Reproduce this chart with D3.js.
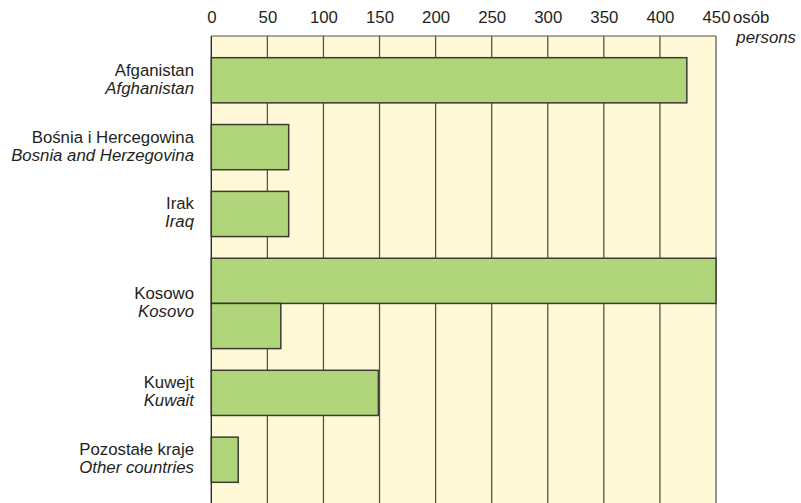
<!DOCTYPE html>
<html><head><meta charset="utf-8">
<script src="https://cdn.jsdelivr.net/npm/d3@7"></script>
<style>
body{margin:0;background:#fff;}
svg text{font-family:"Liberation Sans",Arial,sans-serif;fill:#231f20;}
</style></head>
<body><svg id="c" width="801" height="503"></svg>
<script>
const categoriesPL = ["Afganistan","Bośnia i Hercegowina","Irak","Kosowo","Kuwejt","Pozostałe kraje"];
const categoriesEN = ["Afghanistan","Bosnia and Herzegovina","Iraq","Kosovo","Kuwait","Other countries"];
const values = [[424],[69],[69],[450,62],[149],[24]];
const tickValues = [0,50,100,150,200,250,300,350,400,450];
const unitPL = "osób", unitEN = "persons";

(function(){
const svg = d3.select("#c");
const pL = 211.3, pR = 716, pT = 36, pB = 504;
const fs = 16.8;
const x = d3.scaleLinear().domain([0,450]).range([pL,pR]);

// layout in bar units: a gap before each category, one unit per bar
const gapU = 0.48;
let pos = 0; const rows = [];
values.forEach((vals,i)=>{ pos += gapU; rows.push({i, start:pos, vals}); pos += vals.length; });
pos += gapU;
const y = d3.scaleLinear().domain([0,pos]).range([pT,pB]);

svg.append("rect").attr("x",pL).attr("y",pT).attr("width",pR-pL).attr("height",pB-pT)
  .attr("fill","#fff9d7");

// grid
svg.selectAll("line.g").data(tickValues.filter(t=>t>0&&t<450)).enter().append("line")
  .attr("x1",d=>x(d)).attr("x2",d=>x(d)).attr("y1",pT).attr("y2",pB)
  .attr("stroke","#5a5448").attr("stroke-width",1.3);
svg.append("line").attr("x1",x(450)).attr("x2",x(450)).attr("y1",pT).attr("y2",pB)
  .attr("stroke","#8a8780").attr("stroke-width",1.8);
svg.append("line").attr("x1",x(0)).attr("x2",x(0)).attr("y1",pT).attr("y2",pB)
  .attr("stroke","#231f20").attr("stroke-width",1.3);
svg.append("line").attr("x1",pL).attr("x2",pR).attr("y1",pT).attr("y2",pT)
  .attr("stroke","#5a5448").attr("stroke-width",1.2);

// bars
rows.forEach(r=>{
  r.vals.forEach((v,k)=>{
    svg.append("rect").attr("x",x(0)).attr("y",y(r.start+k))
      .attr("width",x(v)-x(0)).attr("height",y(r.start+k+1)-y(r.start+k))
      .attr("fill","#b0d57a").attr("stroke","#3c3a33").attr("stroke-width",1.5);
  });
  const cy = (y(r.start)+y(r.start+r.vals.length))/2;
  const t = svg.append("text").attr("text-anchor","end").attr("font-size",fs);
  t.append("tspan").attr("x",194).attr("y",cy-4.5).text(categoriesPL[r.i]);
  t.append("tspan").attr("x",194).attr("y",cy+13.5).attr("font-style","italic").text(categoriesEN[r.i]);
});

// axis
const ax = d3.axisTop(x).tickValues(tickValues).tickSize(0).tickPadding(0);
const g = svg.append("g").attr("transform",`translate(0,${23})`).call(ax);
g.select(".domain").remove();
g.attr("font-size",fs);
g.selectAll("text").attr("font-size",fs).attr("font-family","Liberation Sans, Arial, sans-serif")
  .attr("fill","#231f20").attr("dy",0);
svg.append("text").attr("x",733).attr("y",23).attr("font-size",fs).text(unitPL);
svg.append("text").attr("x",796).attr("y",42.5).attr("text-anchor","end").attr("font-size",fs)
  .attr("font-style","italic").text(unitEN);
})();
</script></body></html>
